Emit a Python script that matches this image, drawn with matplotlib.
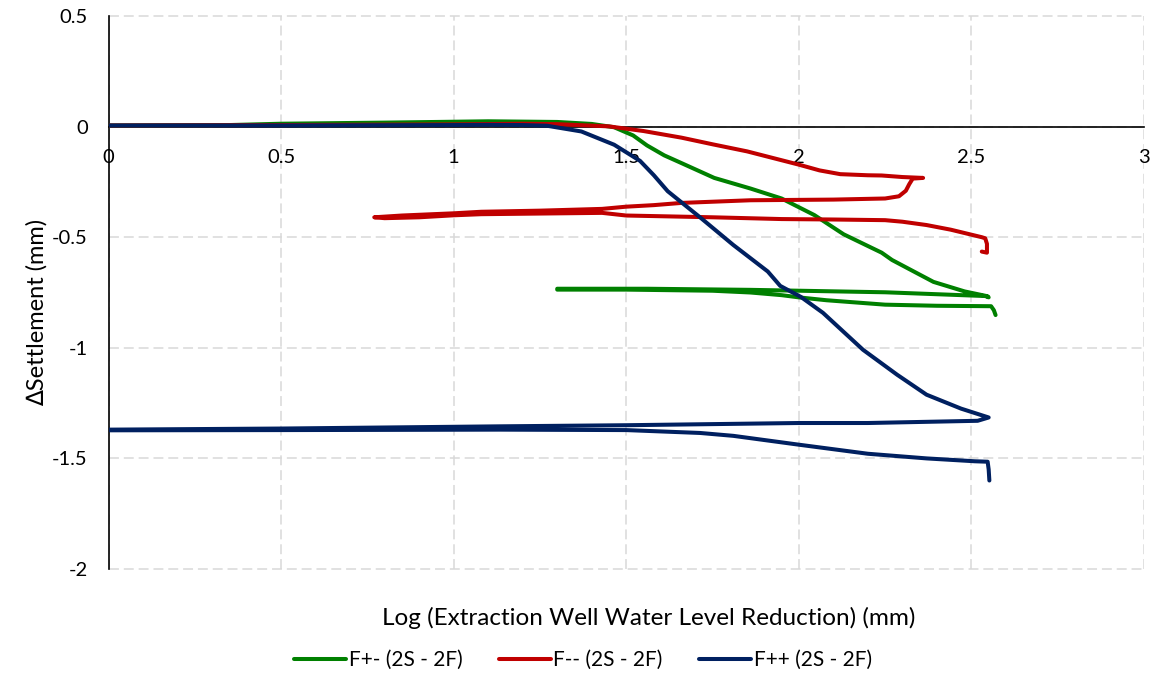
import matplotlib
matplotlib.use("Agg")
import matplotlib.pyplot as plt

plt.rcParams["font.family"] = ["Lato", "DejaVu Sans"]

# F+- (2S - 2F): carga, descarga, recarga
fpm_x = [0.0, 0.35, 0.5, 0.8, 1.1, 1.3, 1.4, 1.465, 1.52, 1.56, 1.61, 1.66, 1.755, 1.86, 1.95,
         2.045, 2.13, 2.24, 2.27, 2.39, 2.48, 2.547, 2.55,
         2.54, 2.25, 1.86, 1.56, 1.3,
         1.3, 1.5, 1.75, 1.86, 1.95, 2.0, 2.08, 2.25, 2.4, 2.557, 2.565, 2.57]
fpm_y = [0.005, 0.007, 0.013, 0.018, 0.024, 0.021, 0.012, -0.003, -0.04, -0.085, -0.13, -0.165,
         -0.232, -0.28, -0.325, -0.4, -0.487, -0.57, -0.603, -0.702, -0.745, -0.767, -0.772,
         -0.766, -0.749, -0.738, -0.733, -0.733,
         -0.737, -0.737, -0.742, -0.75, -0.762, -0.772, -0.785, -0.805, -0.81, -0.812, -0.83, -0.852]

# F-- (2S - 2F)
fmm_x = [0.0, 0.5, 1.0, 1.2, 1.3, 1.45, 1.55, 1.66, 1.75, 1.85, 2.0, 2.06, 2.12, 2.2, 2.24,
         2.3, 2.36,
         2.33, 2.32, 2.31, 2.29, 2.25, 2.1, 1.86, 1.66, 1.58, 1.5, 1.43, 1.25, 1.08, 1.0,
         0.85, 0.77,
         0.8, 0.9, 1.0, 1.08, 1.43, 1.5, 1.75, 1.95, 2.1, 2.25, 2.3, 2.37, 2.44, 2.53,
         2.54, 2.545, 2.545, 2.53]
fmm_y = [0.005, 0.007, 0.01, 0.013, 0.011, 0.001, -0.02, -0.05, -0.08, -0.112, -0.172, -0.198,
         -0.215, -0.22, -0.221, -0.228, -0.232,
         -0.235, -0.26, -0.29, -0.315, -0.325, -0.33, -0.333, -0.345, -0.355, -0.362,
         -0.372, -0.38, -0.385, -0.392, -0.402, -0.41,
         -0.414, -0.41, -0.401, -0.396, -0.39, -0.402, -0.41, -0.418, -0.42, -0.423,
         -0.43, -0.445, -0.466, -0.5, -0.505, -0.53, -0.57, -0.565]

# F++ (2S - 2F)
fpp_x = [0.0, 0.5, 1.0, 1.1, 1.2, 1.27, 1.37, 1.465, 1.54, 1.58, 1.62, 1.716, 1.81, 1.91,
         1.946, 2.006, 2.07, 2.186, 2.285, 2.37, 2.47, 2.55,
         2.518, 2.2, 2.0, 1.5, 1.134, 0.5, 0.0,
         0.0, 0.5, 1.134, 1.5, 1.714, 1.81, 2.0, 2.2, 2.37, 2.51, 2.547, 2.55, 2.552]
fpp_y = [0.005, 0.005, 0.007, 0.008, 0.007, 0.004, -0.022, -0.082, -0.155, -0.22, -0.292,
         -0.413, -0.535, -0.655, -0.72, -0.77, -0.842, -1.009, -1.122, -1.212, -1.275,
         -1.315,
         -1.33, -1.34, -1.34, -1.35, -1.355, -1.365, -1.37,
         -1.373, -1.372, -1.37, -1.372, -1.385, -1.398, -1.438, -1.479, -1.5, -1.513,
         -1.515, -1.55, -1.6]

series = [
    ("F+- (2S - 2F)", fpm_x, fpm_y, "#008000"),
    ("F-- (2S - 2F)", fmm_x, fmm_y, "#C00000"),
    ("F++ (2S - 2F)", fpp_x, fpp_y, "#002060"),
]

x_ticks = [0, 0.5, 1, 1.5, 2, 2.5, 3]
x_tick_labels = ["0", "0.5", "1", "1.5", "2", "2.5", "3"]
y_ticks = [0.5, 0, -0.5, -1, -1.5, -2]
y_tick_labels = ["0.5", "0", "-0.5", "-1", "-1.5", "-2"]

fig = plt.figure(figsize=(11.58, 6.78), dpi=100)
ax = fig.add_axes([108.5 / 1158, 1 - 569 / 678, (1144 - 108.5) / 1158, (569 - 16) / 678])

for label, xs, ys, color in series:
    ax.plot(xs, ys, color=color, linewidth=2.9, label=label, zorder=3,
            solid_joinstyle="round", solid_capstyle="round")

ax.set_xlim(0, 3)
ax.set_ylim(-2, 0.5)
ax.set_xticks(x_ticks)
ax.set_xticklabels(x_tick_labels)
ax.set_yticks(y_ticks)
ax.set_yticklabels(y_tick_labels)
ax.tick_params(axis="x", length=0, pad=16, labelsize=14.5)
ax.tick_params(axis="y", length=0, pad=15, labelsize=14.5)

ax.grid(True, color="#D9D9D9", linestyle=(0, (6.5, 3.2)), linewidth=1.1)
for gl in ax.get_xgridlines() + ax.get_ygridlines():
    gl.set_clip_on(False)
ax.set_axisbelow(True)

ax.spines["top"].set_visible(False)
ax.spines["right"].set_visible(False)
ax.spines["bottom"].set_position(("data", 0))
ax.spines["bottom"].set_linewidth(1.2)
ax.spines["left"].set_linewidth(1.2)
ax.spines["bottom"].set_zorder(2.5)

fig.text(649 / 1158, 1 - 618 / 678, "Log (Extraction Well Water Level Reduction) (mm)",
         ha="center", va="center", fontsize=17.5)
fig.text(37 / 1158, 1 - 312 / 678, "\u2206Settlement (mm)", rotation=90,
         ha="center", va="center", fontsize=17)

handles, labels = ax.get_legend_handles_labels()
fig.legend(handles, labels, loc="center", bbox_to_anchor=(583 / 1158, 1 - 660 / 678),
           ncol=3, frameon=False, fontsize=15, handlelength=2.5, handletextpad=0.12,
           columnspacing=1.75)

fig.savefig("out.png", dpi=100)
